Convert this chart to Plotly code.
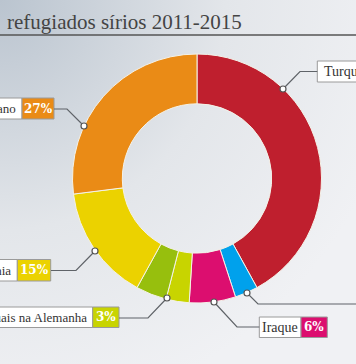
import base64
import plotly.graph_objects as go

W, H = 356, 364

# ---- data ----
countries = ["Turquia", "Egito", "Iraque", "Pedidos de asilo individuais na Alemanha",
             "Outros", "Jordânia", "Líbano"]
shares = [42, 3, 6, 3, 4, 15, 27]
pct_labels = ["42%", "3%", "6%", "3%", "4%", "15%", "27%"]
colors = ["#bf1f2e", "#00a1ec", "#dc0e6f", "#c8d400", "#97bf0d", "#ebd200", "#ea8b16"]
title_text = "refugiados sírios 2011-2015"

def px(x):
    return x / W

def py(y):
    return 1 - y / H

# pie geometry (pixels)
cx, cy, R = 197, 178.5, 124.5

fig = go.Figure(go.Pie(
    labels=countries, values=shares, sort=False, direction="clockwise", rotation=0,
    hole=0.6, marker=dict(colors=colors, line=dict(color="#f4f2e8", width=1)),
    textinfo="none", showlegend=False,
    domain=dict(x=[px(cx - R), px(cx + R)], y=[py(cy + R), py(cy - R)]),
))

# background gradient as an svg image
svg = f'''<svg xmlns="http://www.w3.org/2000/svg" width="{W}" height="{H}">
<defs><radialGradient id="g" cx="0" cy="0" r="1.15" gradientUnits="objectBoundingBox">
<stop offset="0" stop-color="#bac4cf"/><stop offset="0.55" stop-color="#e3e6ea"/>
<stop offset="1" stop-color="#f0f1f4"/></radialGradient></defs>
<rect width="{W}" height="{H}" fill="url(#g)"/></svg>'''
uri = "data:image/svg+xml;base64," + base64.b64encode(svg.encode()).decode()

shapes = []
annotations = []
LABEL_SIZE = 13

# title
annotations.append(dict(x=px(5), y=py(22), xref="paper", yref="paper", xanchor="left",
                        yanchor="middle", showarrow=False, text=title_text,
                        font=dict(family="Liberation Serif", size=21, color="#444444")))
shapes.append(dict(type="line", xref="paper", yref="paper", x0=0, x1=1, y0=py(35), y1=py(35),
                   line=dict(color="#555555", width=1.3)))

# label boxes on the left: (index, white_x0, split_x, col_x1, y0, y1)
boxes = [
    (6, -60, 22, 54, 98, 119),
    (5, -80, 17.3, 50.7, 259.5, 281),
    (3, -200, 92.7, 119, 307, 327.5),
]
for idx, x0, xs, x1, y0, y1 in boxes:
    shapes.append(dict(type="rect", xref="paper", yref="paper", x0=px(x0), x1=px(xs),
                       y0=py(y1), y1=py(y0), fillcolor="white",
                       line=dict(color="#9a9a9a", width=1)))
    shapes.append(dict(type="rect", xref="paper", yref="paper", x0=px(xs), x1=px(x1),
                       y0=py(y1), y1=py(y0), fillcolor=colors[idx],
                       line=dict(color="#9a9a9a", width=1)))
    ym = py((y0 + y1) / 2)
    annotations.append(dict(x=px(xs - 4), y=ym, xref="paper", yref="paper", xanchor="right",
                            yanchor="middle", showarrow=False, text=countries[idx],
                            font=dict(family="Liberation Serif", size=LABEL_SIZE, color="#333333")))
    annotations.append(dict(x=px((xs + x1) / 2), y=ym, xref="paper", yref="paper",
                            xanchor="center", yanchor="middle", showarrow=False,
                            text="<b>" + pct_labels[idx] + "</b>",
                            font=dict(family="DejaVu Serif", size=12, color="white")))

# Iraque box (right side)
ix0, ixs, ix1, iy0, iy1 = 259.3, 301, 327.3, 317, 337.5
shapes.append(dict(type="rect", xref="paper", yref="paper", x0=px(ix0), x1=px(ixs),
                   y0=py(iy1), y1=py(iy0), fillcolor="white", line=dict(color="#9a9a9a", width=1)))
shapes.append(dict(type="rect", xref="paper", yref="paper", x0=px(ixs), x1=px(ix1),
                   y0=py(iy1), y1=py(iy0), fillcolor=colors[2], line=dict(color="#9a9a9a", width=1)))
annotations.append(dict(x=px((ix0 + ixs) / 2), y=py((iy0 + iy1) / 2), xref="paper", yref="paper",
                        xanchor="center", yanchor="middle", showarrow=False, text=countries[2],
                        font=dict(family="Liberation Serif", size=14, color="#333333")))
annotations.append(dict(x=px((ixs + ix1) / 2), y=py((iy0 + iy1) / 2), xref="paper", yref="paper",
                        xanchor="center", yanchor="middle", showarrow=False,
                        text="<b>" + pct_labels[2] + "</b>",
                        font=dict(family="DejaVu Serif", size=12, color="white")))

# Turquia box (cut at the right edge)
tx0, ty0, ty1 = 317.3, 61, 82
shapes.append(dict(type="rect", xref="paper", yref="paper", x0=px(tx0), x1=px(420),
                   y0=py(ty1), y1=py(ty0), fillcolor="white", line=dict(color="#9a9a9a", width=1)))
annotations.append(dict(x=px(tx0 + 5), y=py((ty0 + ty1) / 2), xref="paper", yref="paper",
                        xanchor="left", yanchor="middle", showarrow=False, text=countries[0],
                        font=dict(family="Liberation Serif", size=14, color="#333333")))

# leader lines and anchor markers (pixels)
leaders = [
    [(54, 109), (67, 109), (84, 126)],
    [(51, 270.5), (76, 270.5), (95, 251)],
    [(119, 318), (148, 318), (167, 298)],
    [(259.3, 327), (237, 327), (214, 302)],
    [(247, 293), (258, 304), (400, 304)],
    [(317.3, 71.5), (300, 71.5), (283, 89)],
]
markers = [(84, 126), (95, 251), (167, 298), (214, 302), (247, 293), (283, 89)]
for pts in leaders:
    path = "M " + " L ".join(f"{px(x)},{py(y)}" for x, y in pts)
    shapes.append(dict(type="path", xref="paper", yref="paper", path=path,
                       line=dict(color="#5f6368", width=1.2)))
for mx, my in markers:
    r = 3
    shapes.append(dict(type="circle", xref="paper", yref="paper",
                       x0=px(mx - r), x1=px(mx + r), y0=py(my + r), y1=py(my - r),
                       fillcolor="white", line=dict(color="#555555", width=1.2)))

fig.update_layout(
    width=W, height=H, margin=dict(l=0, r=0, t=0, b=0),
    paper_bgcolor="#e6e9ed", plot_bgcolor="rgba(0,0,0,0)",
    images=[dict(source=uri, xref="paper", yref="paper", x=0, y=1, sizex=1, sizey=1,
                 xanchor="left", yanchor="top", sizing="stretch", layer="below")],
    shapes=shapes, annotations=annotations,
)
fig.write_html("out.html", config={"displayModeBar": False},
               post_script="document.body.style.margin='0';document.body.style.overflow='hidden';")
